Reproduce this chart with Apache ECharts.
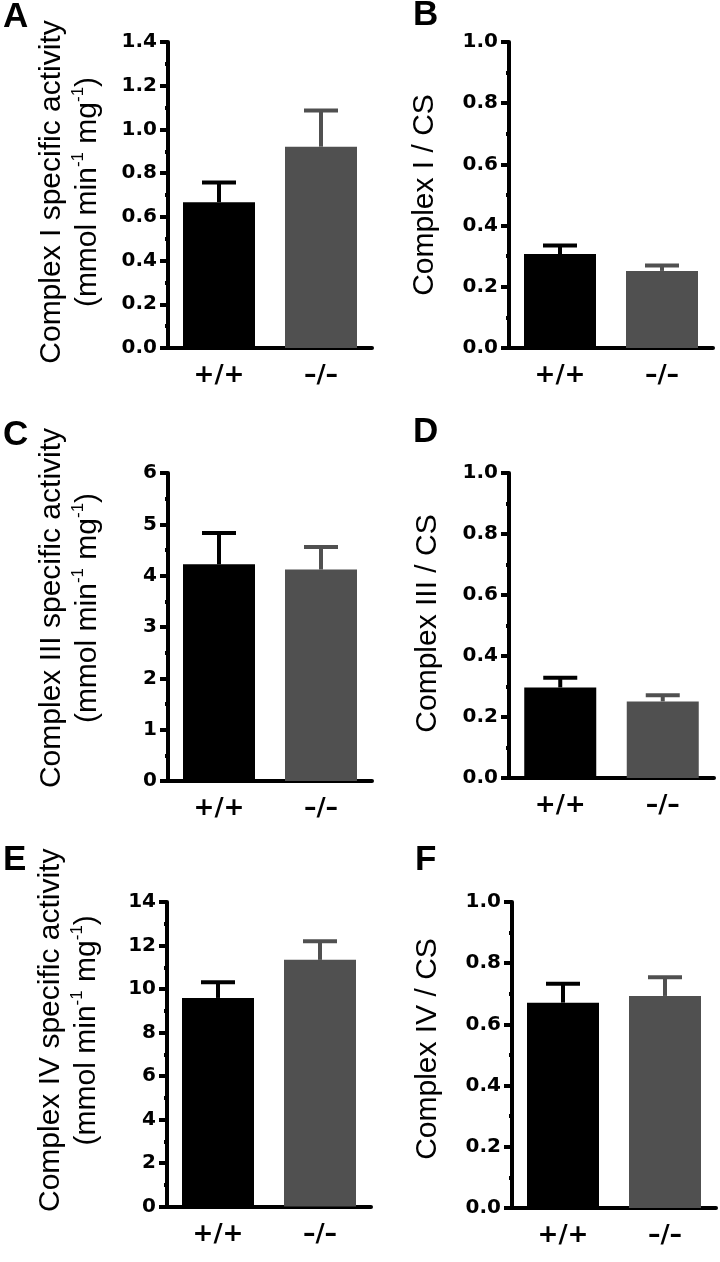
<!DOCTYPE html>
<html>
<head>
<meta charset="utf-8">
<script src="https://cdn.jsdelivr.net/npm/echarts@6/dist/echarts.min.js"></script>
<style>html,body{margin:0;padding:0;background:#fff}#c{width:720px;height:1262px}</style>
</head>
<body>
<div id="c"></div>
<script>
// ---- data ----
const groups = ['+/+', '\u2013/\u2013'];
const panelLetters = ['A', 'B', 'C', 'D', 'E', 'F'];
const yTitles = [
  'Complex I specific activity\n(mmol min{sup|-1} mg{sup|-1})',
  'Complex I / CS',
  'Complex III specific activity\n(mmol min{sup|-1} mg{sup|-1})',
  'Complex III / CS',
  'Complex IV specific activity\n(mmol min{sup|-1} mg{sup|-1})',
  'Complex IV / CS'
];
const cI_activity_mean = [0.667, 0.921];
const cI_activity_sem = [0.09, 0.166];
const cI_cs_mean = [0.307, 0.252];
const cI_cs_sem = [0.028, 0.018];
const cIII_activity_mean = [4.22, 4.12];
const cIII_activity_sem = [0.61, 0.44];
const cIII_cs_mean = [0.297, 0.251];
const cIII_cs_sem = [0.032, 0.02];
const cIV_activity_mean = [9.59, 11.34];
const cIV_activity_sem = [0.72, 0.85];
const cIV_cs_mean = [0.671, 0.693];
const cIV_cs_sem = [0.062, 0.061];
const yMax = [1.4, 1.0, 6, 1.0, 14, 1.0];
const yInterval = [0.2, 0.2, 1, 0.2, 2, 0.2];
const yDecimals = [1, 1, 0, 1, 0, 1];

const means = [cI_activity_mean, cI_cs_mean, cIII_activity_mean, cIII_cs_mean, cIV_activity_mean, cIV_cs_mean];
const sems = [cI_activity_sem, cI_cs_sem, cIII_activity_sem, cIII_cs_sem, cIV_activity_sem, cIV_cs_sem];

// ---- layout ----
const grids = [
  {left: 168, top: 42, width: 204, height: 306},
  {left: 509, top: 42, width: 204, height: 306},
  {left: 168, top: 473, width: 204, height: 308},
  {left: 509, top: 473, width: 205, height: 305},
  {left: 167, top: 902, width: 204, height: 306},
  {left: 512, top: 902, width: 204, height: 306}
];
const letterPos = [[3, 0], [413, -2], [3, 418], [413, 415], [3, 843], [415, 843]];
const nameGaps = [62, 66, 62, 63, 62, 66];
const nameShift = [6, 0, 38, 4, 48, 12];

const FONT = "'Liberation Sans', Arial, Helvetica, sans-serif";
const BFONT = "'DejaVu Sans', 'Liberation Sans', sans-serif";
const barColors = ['#000000', '#505050'];

const chart = echarts.init(document.getElementById('c'), null, {renderer: 'canvas'});

const option = {
  backgroundColor: '#ffffff',
  animation: false,
  title: panelLetters.map((t, i) => ({
    text: t, left: letterPos[i][0], top: letterPos[i][1], padding: 0,
    textStyle: {fontFamily: FONT, fontSize: 35, fontWeight: 'bold', color: '#000'}
  })),
  grid: grids.map(g => Object.assign({containLabel: false}, g)),
  xAxis: grids.map((g, i) => ({
    type: 'category', gridIndex: i, data: groups,
    axisLine: {lineStyle: {color: '#000', width: 4}},
    axisTick: {alignWithLabel: true, length: 8, lineStyle: {color: '#000', width: 4}},
    axisLabel: {fontFamily: BFONT, fontSize: 25, fontWeight: 'bold', color: '#000', margin: 15}
  })),
  yAxis: grids.map((g, i) => ({
    type: 'value', gridIndex: i, min: 0, max: yMax[i], interval: yInterval[i],
    name: yTitles[i], nameLocation: 'middle', nameGap: nameGaps[i],
    nameTextStyle: {
      fontFamily: FONT, fontSize: 30, color: '#000', lineHeight: 36,
      padding: [0, 0, 0, nameShift[i]],
      rich: {sup: {fontFamily: FONT, fontSize: 17, color: '#000', verticalAlign: 'top', lineHeight: 36, padding: [0, 0, 12, 0]}}
    },
    axisLine: {show: true, lineStyle: {color: '#000', width: 4}},
    axisTick: {show: true, length: 8, lineStyle: {color: '#000', width: 4}},
    minorTick: {show: true, splitNumber: 2, length: 3, lineStyle: {color: '#000', width: 4}},
    splitLine: {show: false},
    axisLabel: {
      fontFamily: BFONT, fontSize: 20, fontWeight: 'bold', color: '#000', margin: 11,
      formatter: v => v.toFixed(yDecimals[i])
    }
  })),
  series: []
};

means.forEach((m, i) => {
  option.series.push({
    type: 'bar', xAxisIndex: i, yAxisIndex: i, barWidth: 72,
    data: m.map((v, k) => ({value: v, itemStyle: {color: barColors[k]}})),
    z: 2
  });
  option.series.push({
    type: 'custom', xAxisIndex: i, yAxisIndex: i, z: 3,
    data: m.map((v, k) => [k, v, v + sems[i][k]]),
    renderItem: function (params, api) {
      const k = api.value(0);
      const p0 = api.coord([k, api.value(1)]);
      const p1 = api.coord([k, api.value(2)]);
      const col = barColors[k];
      const half = 17;
      return {
        type: 'group',
        children: [
          {type: 'line', shape: {x1: p0[0], y1: p0[1], x2: p1[0], y2: p1[1]}, style: {stroke: col, lineWidth: 4}},
          {type: 'line', shape: {x1: p1[0] - half, y1: p1[1], x2: p1[0] + half, y2: p1[1]}, style: {stroke: col, lineWidth: 4}}
        ]
      };
    }
  });
});

chart.setOption(option);
</script>
</body>
</html>
